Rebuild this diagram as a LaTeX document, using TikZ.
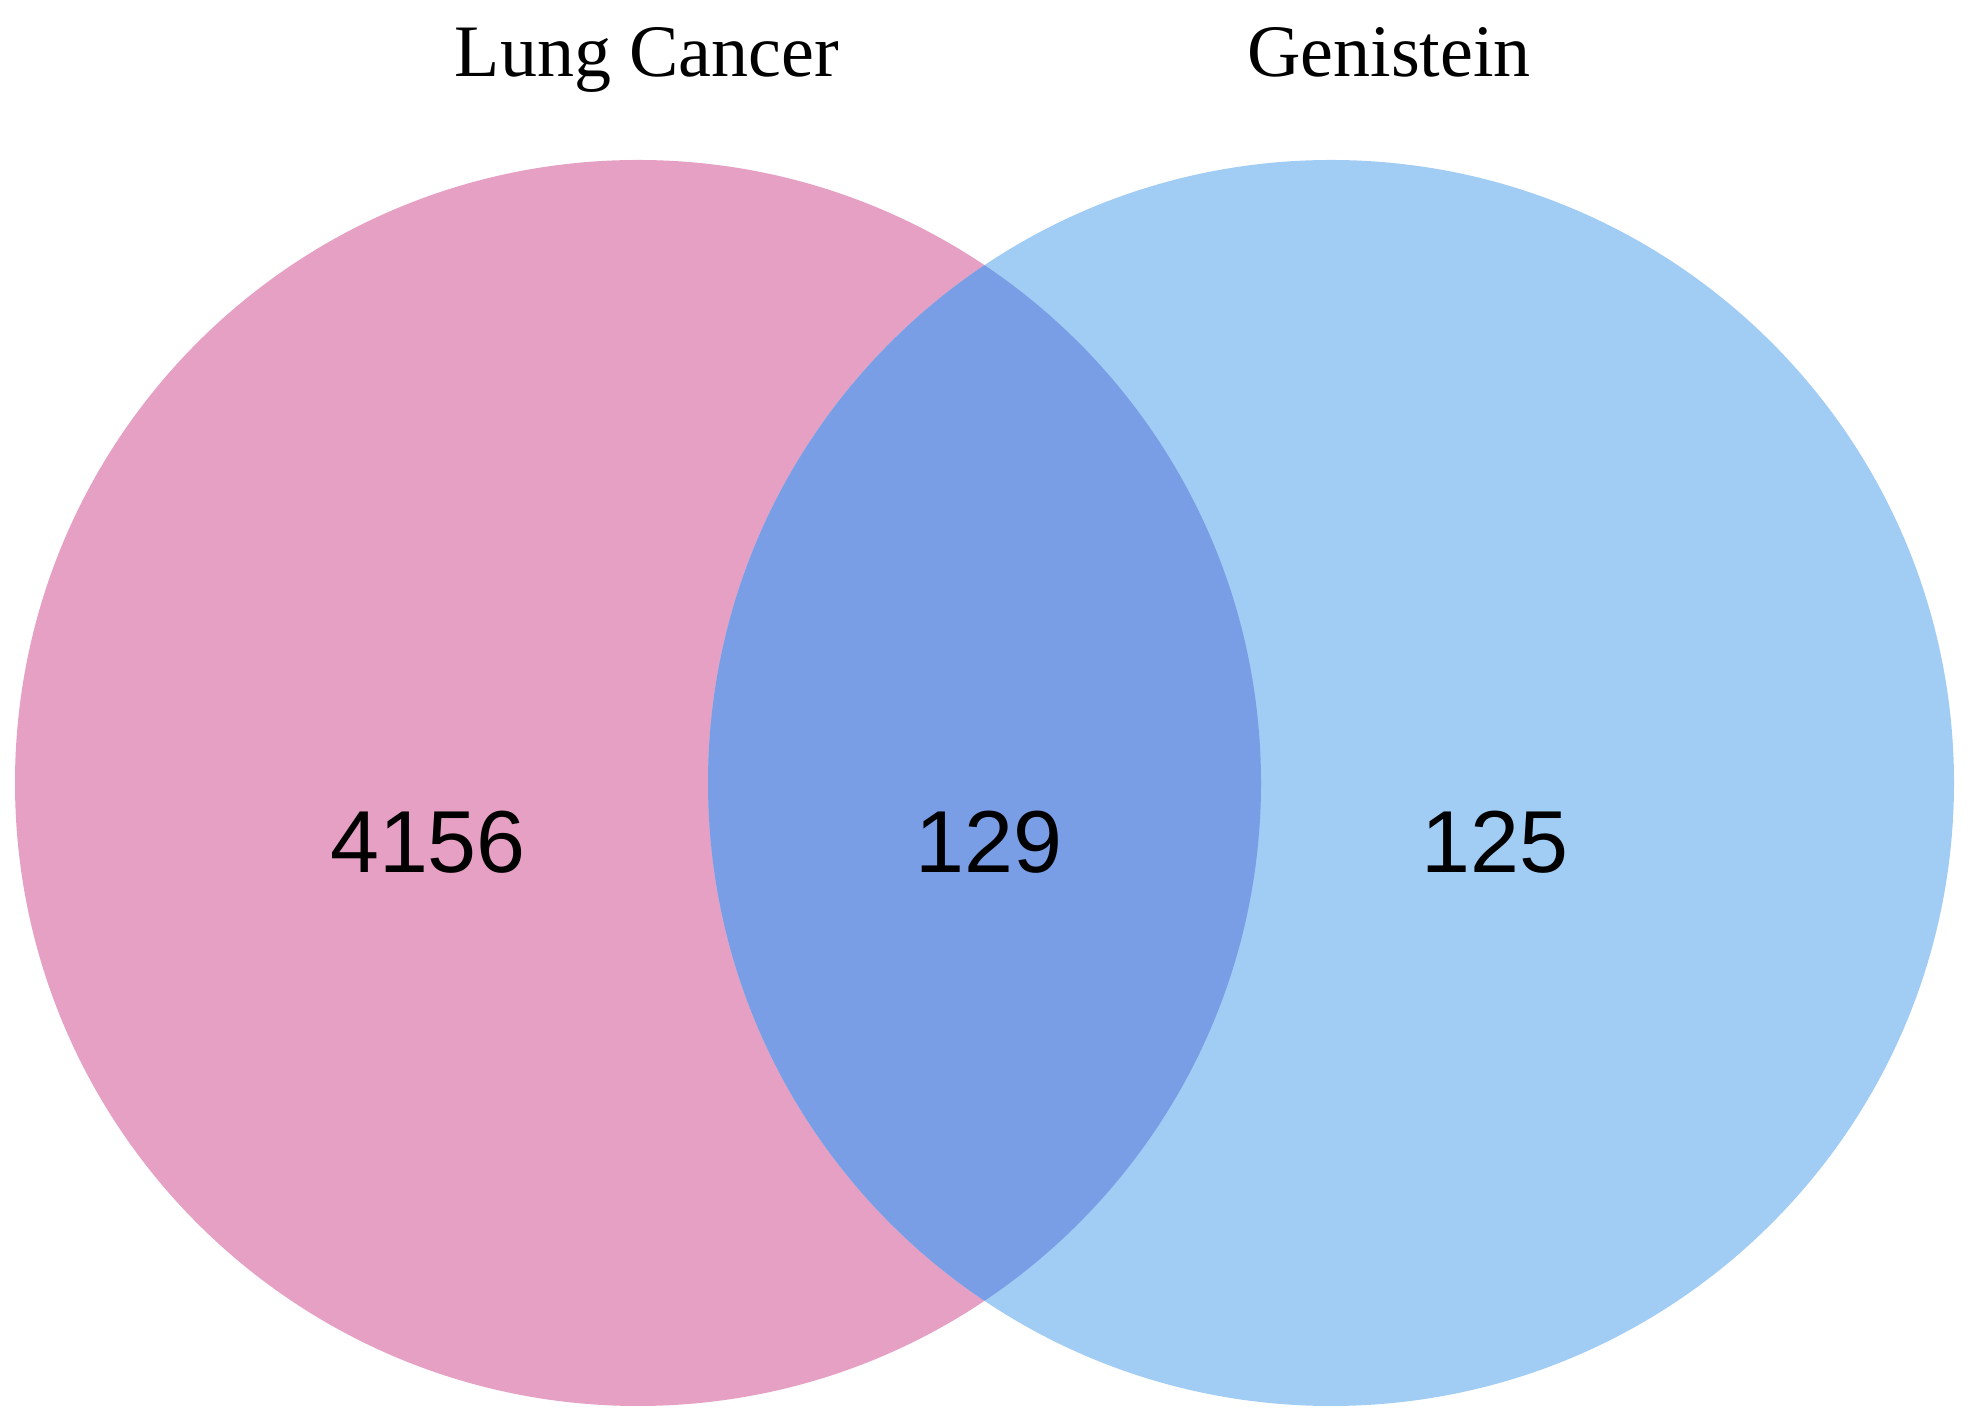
\documentclass[tikz,border=0pt]{standalone}
\usepackage{fontspec}
\setmainfont{Liberation Serif}
\newfontfamily\numfont{Liberation Sans}
\definecolor{pinkset}{HTML}{E5A0C4}
\definecolor{blueset}{HTML}{A1CCF4}
\definecolor{overlapset}{HTML}{7A9EE6}
\begin{document}
\begin{tikzpicture}[x=1pt,y=1pt,
  title/.style={anchor=base,inner sep=0pt,font=\fontsize{74}{80}\selectfont},
  count/.style={anchor=base,inner sep=0pt,font=\numfont\fontsize{88}{96}\selectfont}]
\useasboundingbox (0,0) rectangle (1970,1423);
\coordinate (cl) at (638,640);
\coordinate (cr) at (1331,640);
\fill[pinkset] (cl) circle (623);
\fill[blueset] (cr) circle (623);
\begin{scope}
  \clip (cl) circle (623);
  \fill[overlapset] (cr) circle (623);
\end{scope}
\node[title] (lc) at (647,1346) {Lung Cancer};
\node[title] (gen) at (1389,1346) {Genistein};
\node[count] (n1) at (428,550) {4156};
\node[count] (n2) at (989,550) {129};
\node[count] (n3) at (1495,550) {125};
\end{tikzpicture}
\end{document}
